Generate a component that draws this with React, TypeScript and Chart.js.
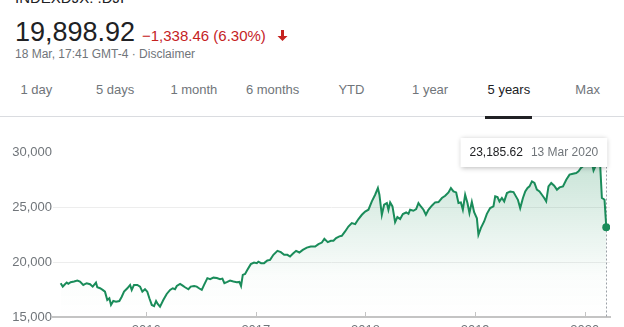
import React, { useEffect, useRef } from "react";
import { Chart, registerables } from "chart.js";

Chart.register(...registerables);

const FONT = '"Liberation Sans", Arial, Helvetica, sans-serif';

// ---- header data ----
const INDEX_NAME = "INDEXDJX: .DJI";
const LAST_PRICE = "19,898.92";
const CHANGE_TEXT = "\u22121,338.46 (6.30%)";
const TIME_TEXT = "18 Mar, 17:41 GMT-4 \u00b7 Disclaimer";
const TABS = ["1 day", "5 days", "1 month", "6 months", "YTD", "1 year", "5 years", "Max"];
const SELECTED_TAB = "5 years";

// ---- chart data (dates as decimal years) ----
const DATES = [
  2015.220, 2015.239, 2015.259, 2015.275, 2015.290, 2015.311, 2015.342, 2015.372, 2015.396, 2015.426,
  2015.457, 2015.488, 2015.512, 2015.542, 2015.554, 2015.579, 2015.603, 2015.624, 2015.645, 2015.664,
  2015.679, 2015.700, 2015.725, 2015.755, 2015.777, 2015.798, 2015.828, 2015.853, 2015.868, 2015.889,
  2015.919, 2015.944, 2015.965, 2015.989, 2016.010, 2016.029, 2016.051, 2016.072, 2016.090, 2016.105,
  2016.126, 2016.156, 2016.187, 2016.218, 2016.242, 2016.263, 2016.279, 2016.309, 2016.333, 2016.354,
  2016.385, 2016.406, 2016.437, 2016.461, 2016.485, 2016.507, 2016.528, 2016.558, 2016.583, 2016.613,
  2016.644, 2016.674, 2016.695, 2016.713, 2016.740, 2016.765, 2016.795, 2016.826, 2016.850, 2016.865,
  2016.881, 2016.902, 2016.923, 2016.954, 2016.984, 2017.009, 2017.023, 2017.048, 2017.075, 2017.105,
  2017.130, 2017.160, 2017.197, 2017.228, 2017.258, 2017.288, 2017.312, 2017.337, 2017.367, 2017.397,
  2017.428, 2017.465, 2017.501, 2017.541, 2017.571, 2017.602, 2017.625, 2017.656, 2017.684, 2017.708,
  2017.732, 2017.762, 2017.784, 2017.814, 2017.844, 2017.875, 2017.906, 2017.936, 2017.967, 2017.997,
  2018.027, 2018.058, 2018.088, 2018.113, 2018.127, 2018.149, 2018.170, 2018.195, 2018.209, 2018.225,
  2018.246, 2018.270, 2018.291, 2018.316, 2018.341, 2018.371, 2018.392, 2018.407, 2018.437, 2018.462,
  2018.483, 2018.505, 2018.529, 2018.551, 2018.574, 2018.605, 2018.635, 2018.666, 2018.697, 2018.727,
  2018.757, 2018.779, 2018.802, 2018.827, 2018.848, 2018.870, 2018.888, 2018.909, 2018.930, 2018.948,
  2018.970, 2018.991, 2019.016, 2019.030, 2019.052, 2019.082, 2019.107, 2019.137, 2019.167, 2019.183,
  2019.204, 2019.222, 2019.244, 2019.265, 2019.290, 2019.320, 2019.350, 2019.372, 2019.390, 2019.411,
  2019.436, 2019.457, 2019.478, 2019.496, 2019.518, 2019.541, 2019.563, 2019.587, 2019.609, 2019.630,
  2019.648, 2019.669, 2019.694, 2019.721, 2019.746, 2019.770, 2019.801, 2019.831, 2019.861, 2019.892,
  2019.922, 2019.943, 2019.965, 2019.989, 2020.020, 2020.050, 2020.065, 2020.080, 2020.104, 2020.125,
  2020.141, 2020.156, 2020.171, 2020.180, 2020.196,
];

const VALUES = [
  18080, 17770, 17990, 18135, 18020, 18170, 18230, 18320, 18230, 17925,
  18080, 17990, 17770, 18135, 17710, 17620, 17470, 17310, 16550, 16710,
  16100, 16460, 16400, 16460, 16850, 17310, 17620, 17925, 17470, 17925,
  17925, 17770, 17310, 17530, 17310, 16710, 16100, 16000, 16460, 16190,
  15940, 16550, 17100, 17470, 17620, 17530, 17830, 18020, 17860, 17710,
  17530, 17770, 17830, 17770, 17600, 17470, 17925, 18540, 18450, 18590,
  18560, 18450, 18500, 18080, 18200, 18320, 18230, 18170, 18200, 17830,
  18840, 18930, 19300, 19820, 19960, 19910, 20050, 19910, 19910, 20150,
  20210, 20670, 21030, 20910, 20670, 20670, 20510, 20760, 21030, 20880,
  21120, 21330, 21420, 21420, 21640, 21790, 22130, 21830, 21950, 21950,
  22200, 22350, 22400, 22800, 23250, 23560, 23470, 23930, 24320, 24620,
  24780, 25540, 26150, 26760, 26150, 24320, 25240, 25390, 24780, 25450,
  25080, 23650, 24110, 23930, 24390, 24530, 24410, 24780, 24690, 24840,
  25390, 25080, 24780, 24320, 24780, 25150, 25450, 25480, 25850, 26060,
  26360, 26760, 26450, 26360, 25390, 25450, 24780, 26150, 25390, 24480,
  25500, 24550, 24000, 22500, 23110, 23710, 24410, 24930, 25080, 26000,
  25940, 25540, 25850, 25540, 26300, 26450, 26390, 26000, 25690, 24930,
  25850, 26450, 26760, 26910, 27370, 27220, 26610, 26450, 26150, 25850,
  25540, 26910, 27220, 26970, 26610, 26820, 26910, 27520, 27980, 28070,
  28130, 28280, 28590, 28800, 28890, 28800, 29050, 28360, 28890, 29350,
  28740, 25850, 25760, 25690, 23185.62,
];

const TOOLTIP_DATE = "13 Mar 2020";
const Y_TICKS = [15000, 20000, 25000, 30000];
const X_TICK_YEARS = [2016, 2017, 2018, 2019, 2020];
const X_MIN = 2015.15;
const X_MAX = 2020.23;

const GREEN = "#1a8c5a";

export default function App() {
  const ref = useRef<HTMLCanvasElement>(null);

  useEffect(() => {
    const canvas = ref.current;
    if (!canvas) return;
    const n = VALUES.length;

    const overlay = {
      id: "overlay",
      beforeDatasetsDraw(chart: any) {
        const { ctx, chartArea } = chart;
        const pt = chart.getDatasetMeta(0).data[n - 1];
        if (!pt) return;
        ctx.save();
        const xs = chart.scales.x;
        ctx.strokeStyle = "#c4c4c4";
        ctx.lineWidth = 1;
        for (const t of xs.ticks) {
          const px = Math.round(xs.getPixelForValue(t.value)) + 0.5;
          ctx.beginPath();
          ctx.moveTo(px, chartArea.bottom - 5);
          ctx.lineTo(px, chartArea.bottom);
          ctx.stroke();
        }
        ctx.strokeStyle = "#9aa0a6";
        ctx.setLineDash([2, 2]);
        const x = Math.round(pt.x) + 0.5;
        ctx.beginPath();
        ctx.moveTo(x, chartArea.top + 14);
        ctx.lineTo(x, chartArea.bottom);
        ctx.stroke();
        ctx.restore();
      },
      afterDatasetsDraw(chart: any) {
        const { ctx, chartArea } = chart;
        const pt = chart.getDatasetMeta(0).data[n - 1];
        if (!pt) return;
        const valueText = VALUES[n - 1].toLocaleString("en-US", {
          minimumFractionDigits: 2,
          maximumFractionDigits: 2,
        });
        ctx.save();
        ctx.font = `12px ${FONT}`;
        const w1 = ctx.measureText(valueText).width;
        const w2 = ctx.measureText(TOOLTIP_DATE).width;
        const padX = 9;
        const gap = 8;
        const boxW = padX * 2 + w1 + gap + w2;
        const right = pt.x + 1;
        const left = right - boxW;
        const top = chartArea.top - 14.5;
        const h = 29;
        ctx.shadowColor = "rgba(0,0,0,0.28)";
        ctx.shadowBlur = 5;
        ctx.shadowOffsetY = 1;
        ctx.fillStyle = "#ffffff";
        ctx.fillRect(left, top, boxW, h);
        ctx.shadowColor = "transparent";
        ctx.shadowBlur = 0;
        ctx.shadowOffsetY = 0;
        ctx.textBaseline = "middle";
        ctx.fillStyle = "#202124";
        ctx.fillText(valueText, left + padX, top + h / 2 + 0.5);
        ctx.fillStyle = "#70757a";
        ctx.fillText(TOOLTIP_DATE, left + padX + w1 + gap, top + h / 2 + 0.5);
        ctx.restore();
      },
    };

    const chart = new Chart(canvas, {
      type: "line",
      data: {
        datasets: [
          {
            data: DATES.map((d, i) => ({ x: d, y: VALUES[i] })),
            borderColor: GREEN,
            borderWidth: 2,
            tension: 0,
            fill: "start",
            backgroundColor: (c: any) => {
              const { chart: ch } = c;
              const area = ch.chartArea;
              if (!area) return "transparent";
              const g = ch.ctx.createLinearGradient(0, area.top, 0, area.bottom);
              g.addColorStop(0, "rgba(30,142,90,0.26)");
              g.addColorStop(0.75, "rgba(30,142,90,0.02)");
              g.addColorStop(1, "rgba(30,142,90,0)");
              return g;
            },
            pointRadius: (c: any) => (c.dataIndex === n - 1 ? 4 : 0),
            pointBackgroundColor: GREEN,
            pointBorderWidth: 0,
            pointHoverRadius: 0,
          },
        ],
      },
      options: {
        responsive: false,
        animation: false,
        events: [],
        layout: { padding: { top: 32.5, right: 14, bottom: 13, left: 0 } },
        plugins: { legend: { display: false }, tooltip: { enabled: false } },
        scales: {
          x: {
            type: "linear",
            min: X_MIN,
            max: X_MAX,
            afterBuildTicks: (s: any) => {
              s.ticks = X_TICK_YEARS.map((v) => ({ value: v }));
            },
            afterFit: (s: any) => {
              s.height = 30;
            },
            ticks: {
              autoSkip: false,
              maxRotation: 0,
              padding: 6,
              color: "#70757a",
              font: { family: FONT, size: 13 },
              callback: (v: any) => String(v),
            },
            grid: { display: false, drawTicks: false },
            border: { display: true, color: "#c4c4c4", width: 2 },
          },
          y: {
            type: "linear",
            min: 15000,
            max: 30000,
            afterBuildTicks: (s: any) => {
              s.ticks = Y_TICKS.map((v) => ({ value: v }));
            },
            afterFit: (s: any) => {
              s.width = 53;
            },
            ticks: {
              padding: 1,
              color: "#70757a",
              font: { family: FONT, size: 13 },
              callback: (v: any) => Number(v).toLocaleString("en-US"),
            },
            grid: {
              drawTicks: false,
              color: (c: any) =>
                c.tick && (c.tick.value === 30000 || c.tick.value === 15000) ? "rgba(0,0,0,0)" : "#ededed",
            },
            border: { display: false },
          },
        },
      },
      plugins: [overlay],
    } as any);

    return () => chart.destroy();
  }, []);

  const text = (fs: number, baseline: number): React.CSSProperties => ({
    position: "absolute",
    top: baseline - 0.8465 * fs,
    fontSize: fs,
    lineHeight: `${fs}px`,
    whiteSpace: "nowrap",
  });

  const cellW = 630 / TABS.length;
  const tabTop = 94 - 0.8465 * 13;

  return (
    <div
      style={{
        position: "fixed",
        left: 0,
        top: 0,
        width: 624,
        height: 327,
        overflow: "hidden",
        background: "#fff",
        fontFamily: FONT,
      }}
    >
      <div style={{ ...text(15, 3), left: 15, color: "#202124" }}>{INDEX_NAME}</div>
      <div style={{ ...text(27, 41.7), left: 15, color: "#202124" }}>{LAST_PRICE}</div>
      <div style={{ ...text(15, 40.7), left: 142, color: "#c5221f" }}>{CHANGE_TEXT}</div>
      <svg
        width={11}
        height={11}
        viewBox="0 0 11 11"
        style={{ position: "absolute", left: 277, top: 30 }}
      >
        <path d="M4 0 H7 V6 H10.5 L5.5 11 L0.5 6 H4 Z" fill="#c5221f" />
      </svg>
      <div style={{ ...text(12, 58.3), left: 15, color: "#70757a" }}>{TIME_TEXT}</div>

      <div
        style={{
          position: "absolute",
          left: 0,
          top: 116,
          width: 624,
          height: 1,
          background: "#dadce0",
        }}
      />
      {TABS.map((t, i) => (
        <div
          key={t}
          style={{
            position: "absolute",
            left: -3 + i * cellW,
            width: cellW,
            top: tabTop,
            fontSize: 13,
            lineHeight: "13px",
            textAlign: "center",
            color: t === SELECTED_TAB ? "#202124" : "#70757a",
            whiteSpace: "nowrap",
          }}
        >
          {t}
          {t === SELECTED_TAB && (
            <div
              style={{
                position: "absolute",
                left: (cellW - 47) / 2,
                width: 47,
                top: 116 - tabTop,
                height: 3,
                background: "#202124",
              }}
            />
          )}
        </div>
      ))}

      <canvas
        ref={ref}
        width={624}
        height={240}
        style={{ position: "absolute", left: 0, top: 120, width: 624, height: 240 }}
      />
    </div>
  );
}
